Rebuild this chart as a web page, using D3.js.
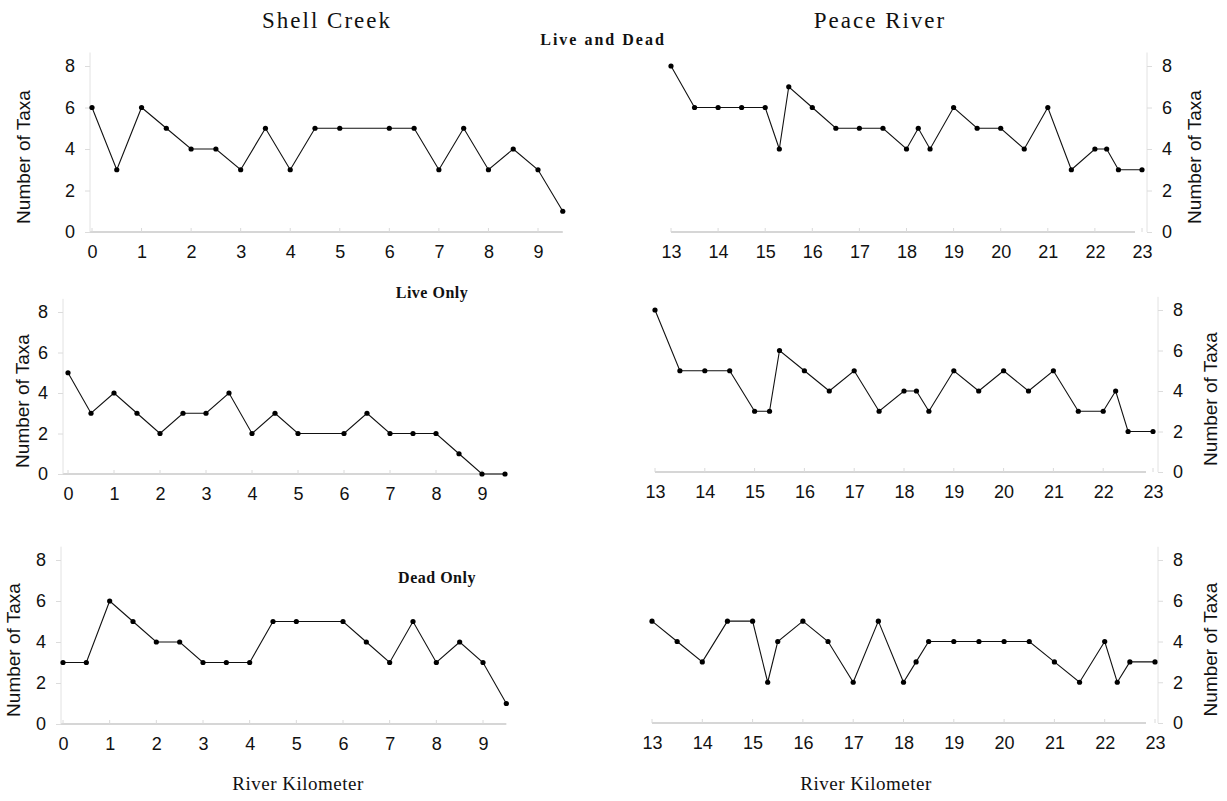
<!DOCTYPE html>
<html>
<head>
<meta charset="utf-8">
<script src="https://cdn.jsdelivr.net/npm/d3@7"></script>
<style>
  body { margin: 0; background: #fff; }
  .tick text { font-family: "Liberation Sans", Arial, sans-serif; }
</style>
</head>
<body>
<svg id="chart" width="1227" height="801"></svg>
<script>
// River kilometer stations
const shellKm = [0, 0.5, 1, 1.5, 2, 2.5, 3, 3.5, 4, 4.5, 5, 6, 6.5, 7, 7.5, 8, 8.5, 9, 9.5];
const peaceKm = [13, 13.5, 14, 14.5, 15, 15.3, 15.5, 16, 16.5, 17, 17.5, 18, 18.25, 18.5,
                 19, 19.5, 20, 20.5, 21, 21.5, 22, 22.25, 22.5, 23];

// Number of taxa
const shellLiveDead = [6, 3, 6, 5, 4, 4, 3, 5, 3, 5, 5, 5, 5, 3, 5, 3, 4, 3, 1];
const shellLive     = [5, 3, 4, 3, 2, 3, 3, 4, 2, 3, 2, 2, 3, 2, 2, 2, 1, 0, 0];
const shellDead     = [3, 3, 6, 5, 4, 4, 3, 3, 3, 5, 5, 5, 4, 3, 5, 3, 4, 3, 1];
const peaceLiveDead = [8, 6, 6, 6, 6, 4, 7, 6, 5, 5, 5, 4, 5, 4, 6, 5, 5, 4, 6, 3, 4, 4, 3, 3];
const peaceLive     = [8, 5, 5, 5, 3, 3, 6, 5, 4, 5, 3, 4, 4, 3, 5, 4, 5, 4, 5, 3, 3, 4, 2, 2];
const peaceDead     = [5, 4, 3, 5, 5, 2, 4, 5, 4, 2, 5, 2, 3, 4, 4, 4, 4, 4, 3, 2, 4, 2, 3, 3];

const shellTicks = [0, 1, 2, 3, 4, 5, 6, 7, 8, 9];
const peaceTicks = [13, 14, 15, 16, 17, 18, 19, 20, 21, 22, 23];
const yTicks = [0, 2, 4, 6, 8];

const svg = d3.select("#chart");
const serif = "'Liberation Serif', 'Times New Roman', serif";
const sans = "'Liberation Sans', Arial, sans-serif";

// panel layout: x0/x1 = pixel of first/last km, y0 = pixel of 0, y8 = pixel of 8
const panels = [
  { km: shellKm, vals: shellLiveDead, ticks: shellTicks, side: "left",
    x0: 92, x1: 538, d1: 9, y0: 232, y8: 66, axisX: 90, labelX: 23 },
  { km: peaceKm, vals: peaceLiveDead, ticks: peaceTicks, side: "right",
    x0: 671, x1: 1142, d1: 23, y0: 232, y8: 66, axisX: 1147, labelX: 1194 },
  { km: shellKm, vals: shellLive, ticks: shellTicks, side: "left",
    x0: 68, x1: 482, d1: 9, y0: 474, y8: 312, axisX: 63, labelX: 22 },
  { km: peaceKm, vals: peaceLive, ticks: peaceTicks, side: "right",
    x0: 655, x1: 1153, d1: 23, y0: 472, y8: 310, axisX: 1158, labelX: 1210 },
  { km: shellKm, vals: shellDead, ticks: shellTicks, side: "left",
    x0: 63, x1: 483, d1: 9, y0: 724, y8: 560, axisX: 61, labelX: 13 },
  { km: peaceKm, vals: peaceDead, ticks: peaceTicks, side: "right",
    x0: 652, x1: 1155, d1: 23, y0: 723, y8: 560, axisX: 1158, labelX: 1210 }
];

panels.forEach(p => {
  const x = d3.scaleLinear().domain([p.ticks[0], p.d1]).range([p.x0, p.x1]);
  const y = d3.scaleLinear().domain([0, 8]).range([p.y0, p.y8]);
  const g = svg.append("g");
  const xMax = d3.max(p.km);

  // x axis (faint baseline with integer ticks)
  const xAxis = g.append("g")
      .attr("transform", `translate(0, ${p.y0})`)
      .call(d3.axisBottom(x).tickValues(p.ticks).tickSize(0).tickPadding(13).tickFormat(d3.format("d")));
  xAxis.select(".domain").remove();
  xAxis.selectAll("text").style("font-size", "18px").attr("fill", "#111");
  g.append("line")
      .attr("x1", p.side === "left" ? p.axisX : x(p.ticks[0]))
      .attr("x2", p.side === "left" ? x(xMax) : p.axisX - 12)
      .attr("y1", p.y0).attr("y2", p.y0)
      .attr("stroke", "#c8c8c8").attr("stroke-width", 1.5);
  g.selectAll(".xt").data(p.ticks).enter().append("line")
      .attr("x1", d => x(d)).attr("x2", d => x(d))
      .attr("y1", p.y0 - 4).attr("y2", p.y0)
      .attr("stroke", "#dadada");

  // y axis
  const axisGen = p.side === "left" ? d3.axisLeft(y) : d3.axisRight(y);
  const yAxis = g.append("g")
      .attr("transform", `translate(${p.axisX}, 0)`)
      .call(axisGen.tickValues(yTicks).tickSize(5).tickPadding(10));
  yAxis.select(".domain")
      .attr("d", `M0,${y(8.65)}V${p.y0}`)
      .attr("stroke", "#e2e2e2");
  yAxis.selectAll(".tick line").attr("stroke", "#dcdcdc");
  yAxis.selectAll("text").style("font-size", "18px").attr("fill", "#111");

  g.append("text")
      .attr("transform", `translate(${p.labelX}, ${(p.y0 + y(8)) / 2 + 8}) rotate(-90)`)
      .attr("text-anchor", "middle")
      .attr("dominant-baseline", "central")
      .style("font-family", sans)
      .style("font-size", "19px")
      .attr("fill", "#111")
      .text("Number of Taxa");

  // series
  const pts = p.km.map((k, i) => ({ km: k, n: p.vals[i] }));
  g.append("path")
      .datum(pts)
      .attr("fill", "none")
      .attr("stroke", "#111")
      .attr("stroke-width", 1.1)
      .attr("d", d3.line().x(d => x(d.km)).y(d => y(d.n)));
  g.selectAll(".pt").data(pts).enter().append("circle")
      .attr("cx", d => x(d.km))
      .attr("cy", d => y(d.n))
      .attr("r", 2.6)
      .attr("fill", "#000");
});

// titles
function label(txt, cx, cy, size, weight, spacing) {
  svg.append("text")
      .attr("x", cx).attr("y", cy)
      .attr("text-anchor", "middle")
      .style("font-family", serif)
      .style("font-size", size + "px")
      .style("font-weight", weight)
      .style("letter-spacing", spacing + "px")
      .attr("fill", "#111")
      .text(txt);
}
label("Shell Creek", 327, 28, 23, "normal", 2);
label("Peace River", 880, 28, 23, "normal", 2);
label("Live and Dead", 603, 45, 16, "bold", 2);
label("Live Only", 432, 298, 16, "bold", 0.5);
label("Dead Only", 437, 583, 16, "bold", 0.5);
label("River Kilometer", 298, 790, 19, "normal", 0.5);
label("River Kilometer", 866, 790, 19, "normal", 0.5);
</script>
</body>
</html>
